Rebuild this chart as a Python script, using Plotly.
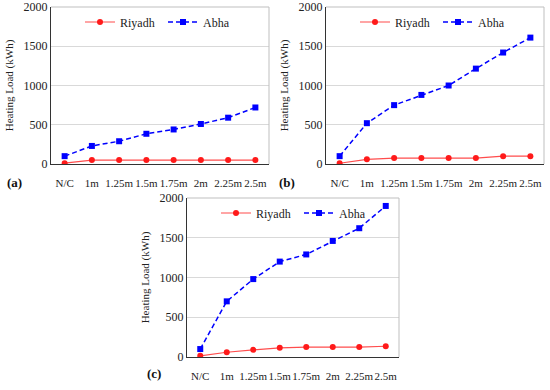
import plotly.graph_objects as go

categories = ["N/C", "1m", "1.25m", "1.5m", "1.75m", "2m", "2.25m", "2.5m"]

riyadh_a = [10, 50, 50, 50, 50, 50, 50, 50]
abha_a = [100, 230, 290, 385, 440, 510, 590, 720]

riyadh_b = [10, 60, 75, 75, 75, 75, 100, 100]
abha_b = [100, 520, 750, 880, 1000, 1215, 1420, 1610]

riyadh_c = [15, 60, 90, 115, 125, 125, 125, 135]
abha_c = [100, 700, 980, 1200, 1290, 1460, 1620, 1900]

panel_labels = ["(a)", "(b)", "(c)"]
y_title = "Heating Load (kWh)"
y_ticks = [0, 500, 1000, 1500, 2000]

FONT = "Liberation Serif"
RED = "#ff1a1a"
BLUE = "#0000ff"

W, H = 550, 390
# plot areas in pixels: (left, right, top, bottom)
boxes = [(51, 269, 7, 164), (326, 544, 7, 164), (187, 399, 198, 357)]
data = [(riyadh_a, abha_a), (riyadh_b, abha_b), (riyadh_c, abha_c)]

fig = go.Figure()
layout = dict(
    width=W, height=H,
    margin=dict(l=0, r=0, t=0, b=0, pad=0, autoexpand=False),
    paper_bgcolor="white", plot_bgcolor="white",
    font=dict(family=FONT, size=11, color="#222"),
    showlegend=True,
)

for i, ((l, r, t, b), (ry, ab)) in enumerate(zip(boxes, data)):
    n = "" if i == 0 else str(i + 1)
    xa = "x" + n
    ya = "y" + n
    lg = "legend" + n
    fig.add_trace(go.Scatter(
        x=categories, y=ry, name="Riyadh", mode="lines+markers",
        line=dict(color="#ff4d4d", width=1.2),
        marker=dict(symbol="circle", size=6, color=RED),
        xaxis=xa, yaxis=ya, legend=lg,
    ))
    fig.add_trace(go.Scatter(
        x=categories, y=ab, name="Abha", mode="lines+markers",
        line=dict(color=BLUE, width=1.5, dash="5px,3px"),
        marker=dict(symbol="square", size=6, color=BLUE),
        xaxis=xa, yaxis=ya, legend=lg,
    ))
    layout["xaxis" + n] = dict(
        domain=[l / W, r / W], anchor=ya, type="category",
        categoryorder="array", categoryarray=categories,
        range=[-0.5, len(categories) - 0.5],
        showline=True, linecolor="#333", linewidth=1,
        showgrid=False, zeroline=False, tickangle=0, automargin=False,
        ticks="", ticklabelstandoff=9,
        tickfont=dict(family=FONT, size=11, color="#222"),
    )
    layout["yaxis" + n] = dict(
        domain=[1 - b / H, 1 - t / H], anchor=xa,
        range=[0, 2000], tickvals=y_ticks, automargin=False,
        showline=True, linecolor="#333", linewidth=1,
        showgrid=True, gridcolor="#d9d9d9", gridwidth=1,
        zeroline=False, ticks="",
        tickfont=dict(family=FONT, size=12, color="#222"),
        title=dict(text=y_title, font=dict(family=FONT, size=11, color="#222"), standoff=7),
    )
    layout[lg] = dict(
        orientation="h", x=(l + 29) / W, xanchor="left",
        y=1 - (t + 15) / H, yanchor="middle",
        bgcolor="rgba(0,0,0,0)", font=dict(family=FONT, size=12, color="#222"),
        itemwidth=30, tracegroupgap=0, entrywidth=38, entrywidthmode="pixels",
    )
    # light frame on top and right
    fig.add_shape(type="line", xref=xa + " domain", yref=ya + " domain",
                  x0=0, x1=1, y0=1, y1=1, line=dict(color="#bfbfbf", width=1))
    fig.add_shape(type="line", xref=xa + " domain", yref=ya + " domain",
                  x0=1, x1=1, y0=0, y1=1, line=dict(color="#bfbfbf", width=1))

label_pos = [(5, 182), (277, 182), (145, 373)]
for txt, (px, py) in zip(panel_labels, label_pos):
    fig.add_annotation(text="<b>" + txt + "</b>", x=px / W, y=1 - py / H,
                       xref="paper", yref="paper", xanchor="left", yanchor="middle",
                       showarrow=False, font=dict(family=FONT, size=13, color="#111"))

fig.update_layout(**layout)
fig.write_html("out.html",
               config={"displayModeBar": False},
               post_script="document.body.style.margin='0';document.body.style.padding='0';")
